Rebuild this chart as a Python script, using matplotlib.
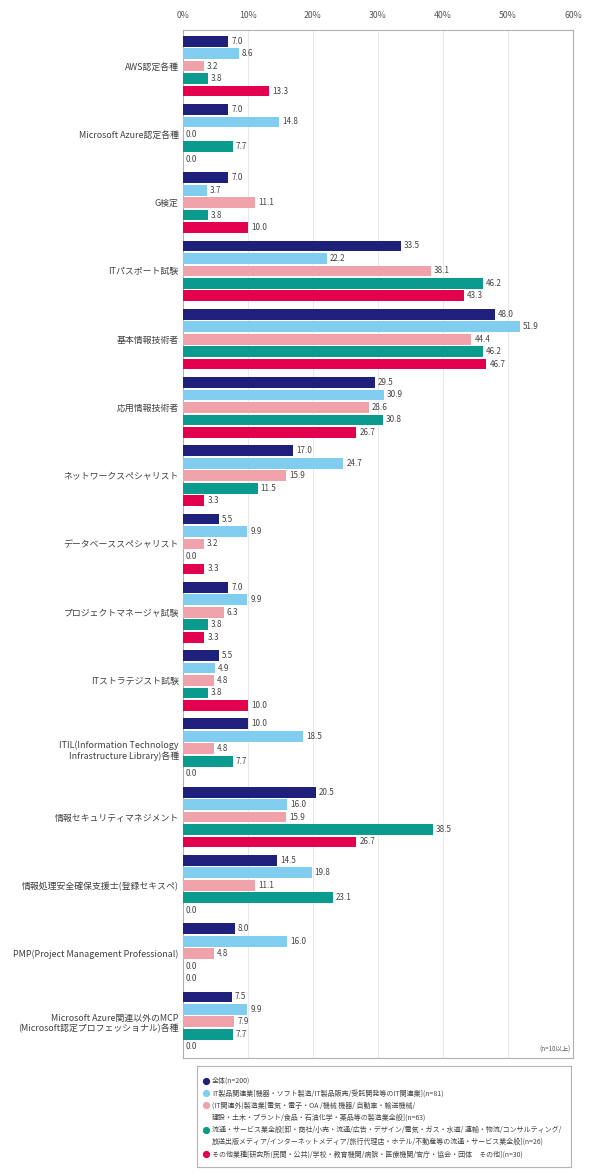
import numpy as np
import matplotlib
matplotlib.use('Agg')
import matplotlib.pyplot as plt

plt.rcParams['font.family'] = ['Noto Sans CJK JP', 'DejaVu Sans']

# categories (top to bottom)
categories = [
    'AWS認定各種',
    'Microsoft Azure認定各種',
    'G検定',
    'ITパスポート試験',
    '基本情報技術者',
    '応用情報技術者',
    'ネットワークスペシャリスト',
    'データベーススペシャリスト',
    'プロジェクトマネージャ試験',
    'ITストラテジスト試験',
    'ITIL(Information Technology\nInfrastructure Library)各種',
    '情報セキュリティマネジメント',
    '情報処理安全確保支援士(登録セキスペ)',
    'PMP(Project Management Professional)',
    'Microsoft Azure関連以外のMCP\n(Microsoft認定プロフェッショナル)各種',
]

all_total = [7.0, 7.0, 7.0, 33.5, 48.0, 29.5, 17.0, 5.5, 7.0, 5.5, 10.0, 20.5, 14.5, 8.0, 7.5]
it_products = [8.6, 14.8, 3.7, 22.2, 51.9, 30.9, 24.7, 9.9, 9.9, 4.9, 18.5, 16.0, 19.8, 16.0, 9.9]
manufacturing = [3.2, 0.0, 11.1, 38.1, 44.4, 28.6, 15.9, 3.2, 6.3, 4.8, 4.8, 15.9, 11.1, 4.8, 7.9]
distribution = [3.8, 7.7, 3.8, 46.2, 46.2, 30.8, 11.5, 0.0, 3.8, 3.8, 7.7, 38.5, 23.1, 0.0, 7.7]
other = [13.3, 0.0, 10.0, 43.3, 46.7, 26.7, 3.3, 3.3, 3.3, 10.0, 0.0, 26.7, 0.0, 0.0, 0.0]

series_labels = [
    '全体(n=200)',
    'IT製品関連業[機器・ソフト製造/IT製品販売/受託開発等のIT関連業](n=81)',
    '(IT関連外)製造業[電気・電子・OA /機械 機器/ 自動車・輸送機械/\n建設・土木・プラント/食品・石油化学・薬品等の製造業全般](n=63)',
    '流通・サービス業全般[卸・商社/小売・流通/広告・デザイン/電気・ガス・水道/ 運輸・物流/コンサルティング/\n放送出版メディア/インターネットメディア/旅行代理店・ホテル/不動産等の流通・サービス業全般](n=26)',
    'その他業種[研究所(民間・公共)/学校・教育機関/病院・医療機関/官庁・協会・団体　その他](n=30)',
]
colors = ['#1f1f7c', '#80cdf0', '#f0a2ab', '#0b9a8e', '#e2004f']

series = [all_total, it_products, manufacturing, distribution, other]

fig = plt.figure(figsize=(5.9, 11.73), dpi=100)
ax = fig.add_axes([0.310, 0.098, 0.661, 0.8765])

y = np.arange(len(categories))
slot = 0.1825
bar_h = 0.158
for j, (vals, c) in enumerate(zip(series, colors)):
    pos = y + (j - 2) * slot
    ax.barh(pos, vals, height=bar_h, color=c, zorder=3)
    for p, v in zip(pos, vals):
        ax.text(v + 0.45, p, f'{v:.1f}', va='center', ha='left',
                fontsize=5.8, color='#444444', zorder=4)

ax.set_xlim(0, 60)
ax.set_ylim(len(categories) - 0.47, -0.53)
ax.set_xticks(range(0, 61, 10))
ax.set_xticklabels([f'{t}%' for t in range(0, 61, 10)], fontsize=6.3, color='#555555')
ax.xaxis.tick_top()
ax.tick_params(axis='x', length=0, pad=7)
ax.set_yticks(y)
ax.set_yticklabels(categories, fontsize=6.4, color='#404040')
ax.tick_params(axis='y', length=0, pad=3)
ax.grid(axis='x', color='#e8e8e8', linewidth=0.7, zorder=0)
for s in ax.spines.values():
    s.set_color('#b0b0b0')
    s.set_linewidth(0.8)

ax.text(0.995, 0.004, '(n=10以上)', transform=ax.transAxes, ha='right', va='bottom',
        fontsize=4.5, color='#555555')

# legend box
leg = fig.add_axes([197 / 590, 1 - 1167 / 1173, 374 / 590, 101 / 1173])
leg.set_xlim(0, 374)
leg.set_ylim(101, 0)
leg.set_xticks([])
leg.set_yticks([])
for s in leg.spines.values():
    s.set_color('#b5b5b5')
    s.set_linewidth(0.8)
line_y = 15
for lab, c in zip(series_labels, colors):
    leg.plot(9, line_y, 'o', color=c, markersize=4.2)
    for k, part in enumerate(lab.split('\n')):
        leg.text(15, line_y + k * 12.2, part, va='center', ha='left',
                 fontsize=5.0, color='#444444')
    line_y += 12.2 * len(lab.split('\n'))

plt.savefig('out.png', dpi=100)
plt.close()
